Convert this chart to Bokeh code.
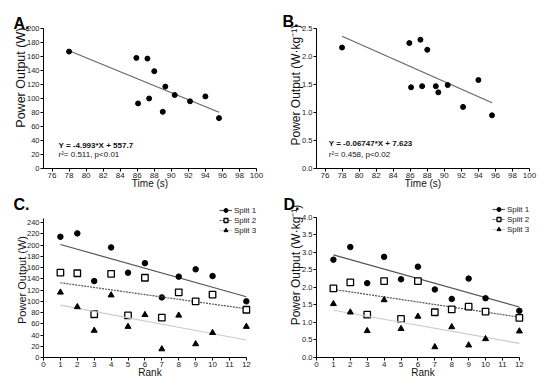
import numpy as np
from bokeh.plotting import figure
from bokeh.layouts import gridplot
from bokeh.models import Label, Legend, LegendItem, FixedTicker, NumeralTickFormatter, Range1d
from bokeh.embed import file_html
from bokeh.resources import INLINE

# ---------------- data ----------------
time_s = [78.0, 85.9, 86.1, 87.2, 87.4, 88.0, 89.0, 89.3, 90.4, 92.2, 94.0, 95.6]
power_w = [167, 158, 93, 157, 100, 139, 81, 117, 105, 96, 103, 72]
power_wkg = [2.16, 2.24, 1.45, 2.30, 1.47, 2.12, 1.47, 1.36, 1.49, 1.10, 1.58, 0.95]
fit_a = [-4.993, 557.7]
fit_b = [-0.06747, 7.623]
eq_a = "Y = -4.993*X + 557.7"
stats_a = "r²= 0.511, p<0.01"
eq_b = "Y = -0.06747*X + 7.623"
stats_b = "r²= 0.458, p<0.02"

rank = [1, 2, 3, 4, 5, 6, 7, 8, 9, 10, 12]
c_split1 = [215, 221, 136, 196, 151, 168, 107, 144, 157, 145, 100]
c_split2 = [151, 150, 77, 149, 75, 142, 71, 116, 100, 112, 85]
c_split3 = [116, 90, 48, 111, 55, 76, 15, 75, 24, 44, 55]
d_split1 = [2.79, 3.15, 2.12, 2.87, 2.23, 2.59, 1.94, 1.67, 2.25, 1.69, 1.33]
d_split2 = [1.97, 2.14, 1.22, 2.18, 1.10, 2.18, 1.29, 1.37, 1.45, 1.31, 1.13]
d_split3 = [1.53, 1.29, 0.76, 1.64, 0.82, 1.17, 0.30, 0.87, 0.35, 0.53, 0.75]
split_names = ["Split 1", "Split 2", "Split 3"]

time_ticks = [76, 78, 80, 82, 84, 86, 88, 90, 92, 94, 96, 98, 100]
w_ticks_a = list(range(0, 201, 20))
wkg_ticks_b = [0.0, 0.5, 1.0, 1.5, 2.0, 2.5]
rank_ticks = list(range(0, 13))
w_ticks_c = list(range(0, 241, 20))
wkg_ticks_d = [0.0, 0.5, 1.0, 1.5, 2.0, 2.5, 3.0, 3.5, 4.0]

FONT = "Liberation Sans"
NB = "\u00a0"


def make_fig(w, h, xr, yr, bl, br, bt, bb):
    p = figure(width=w, height=h, x_range=Range1d(*xr), y_range=Range1d(*yr),
               output_backend="svg", toolbar_location=None,
               min_border_left=bl, min_border_right=br,
               min_border_top=bt, min_border_bottom=bb)
    p.outline_line_color = None
    p.xgrid.visible = False
    p.ygrid.visible = False
    p.background_fill_color = "white"
    p.border_fill_color = "white"
    for ax in (p.xaxis[0], p.yaxis[0]):
        ax.axis_line_color = "black"
        ax.axis_line_width = 1
        ax.major_tick_out = 3
        ax.major_tick_in = 0
        ax.minor_tick_out = 0
        ax.minor_tick_in = 0
        ax.major_tick_line_color = "black"
        ax.major_label_text_font = FONT
        ax.major_label_text_color = "#222222"
        ax.axis_label_text_font = FONT
        ax.axis_label_text_font_style = "normal"
        ax.axis_label_text_color = "#111111"
    p.xaxis[0].major_label_text_font_size = "8px"
    p.yaxis[0].major_label_text_font_size = "7.5px"
    p.xaxis[0].major_label_standoff = 1
    p.yaxis[0].major_label_standoff = 1
    p.xaxis[0].axis_label_standoff = -3
    p.yaxis[0].axis_label_standoff = -4
    return p


def set_letter(p, letter, offset, standoff):
    p.title.text = letter
    p.title.align = "left"
    p.title.offset = offset
    p.title.standoff = standoff
    p.title.text_font = FONT
    p.title.text_font_size = "16px"
    p.title.text_font_style = "bold"
    p.title.text_color = "black"


def add_text(p, txt, x, y, bold=False):
    p.add_layout(Label(x=x, y=y, x_units="screen", y_units="screen", text=txt,
                       text_font=FONT, text_font_size="8px",
                       text_font_style="bold" if bold else "normal",
                       text_color="#111111", text_baseline="alphabetic"))


def style_legend(p, items, loc):
    leg = Legend(items=items, location=loc)
    leg.border_line_color = None
    leg.background_fill_alpha = 0
    leg.padding = 0
    leg.margin = 0
    leg.spacing = 0
    leg.glyph_width = 13
    leg.glyph_height = 10
    leg.label_height = 9
    leg.label_standoff = 2
    leg.label_text_font = FONT
    leg.label_text_font_size = "8px"
    leg.label_text_color = "#222222"
    p.add_layout(leg)


# ---------------- Panel A ----------------
pA = make_fig(275, 194, (75, 100), (0, 200), 43, 19, 28, 26)
pA.xaxis[0].ticker = FixedTicker(ticks=time_ticks)
pA.yaxis[0].ticker = FixedTicker(ticks=w_ticks_a)
xs = np.array([min(time_s), max(time_s)])
pA.line(xs, fit_a[0] * xs + fit_a[1], line_color="#666666", line_width=1.2)
pA.scatter(time_s, power_w, marker="circle", size=5, color="black")
set_letter(pA, "A.", -30, -6)
add_text(pA, eq_a, 15, 23.4, bold=True)
add_text(pA, stats_a, 15, 14.4)
pA.yaxis[0].axis_label = NB * 12 + "Power Output (W)"
pA.yaxis[0].axis_label_text_font_size = "12.5px"
pA.xaxis[0].axis_label = "Time (s)"
pA.xaxis[0].axis_label_text_font_size = "10px"

# ---------------- Panel B ----------------
pB = make_fig(275, 194, (75, 100), (0, 2.5), 41, 21, 27, 26)
pB.xaxis[0].ticker = FixedTicker(ticks=time_ticks)
pB.yaxis[0].ticker = FixedTicker(ticks=wkg_ticks_b)
pB.yaxis[0].formatter = NumeralTickFormatter(format="0.0")
pB.line(xs, fit_b[0] * xs + fit_b[1], line_color="#666666", line_width=1.2)
pB.scatter(time_s, power_wkg, marker="circle", size=5, color="black")
set_letter(pB, "B.", -34, -3)
add_text(pB, eq_b, 12.3, 25.1, bold=True)
add_text(pB, stats_b, 12.3, 14.4)
pB.yaxis[0].axis_label = NB * 8 + "Power Output (W·kg⁻¹)"
pB.yaxis[0].axis_label_text_font_size = "12px"
pB.xaxis[0].axis_label = "Time (s)"
pB.xaxis[0].axis_label_text_font_size = "10px"


# ---------------- Panels C & D ----------------
def split_panel(p, ys, letter, ylabel, ylab_size, legend_loc, letter_offset, letter_standoff):
    rk = np.array(rank, dtype=float)
    xfit = np.array([min(rank), max(rank)], dtype=float)
    styles = [
        dict(line_color="#555555", line_width=1.2, line_dash="solid"),
        dict(line_color="#555555", line_width=1.2, line_dash="2 1"),
        dict(line_color="#cccccc", line_width=1.2, line_dash="solid"),
    ]
    items = []
    for i, (yv, st) in enumerate(zip(ys, styles)):
        m, b = np.polyfit(rk, np.array(yv, dtype=float), 1)
        lr = p.line(xfit, m * xfit + b, **st)
        if i == 0:
            sr = p.scatter(rank, yv, marker="circle", size=5.5, color="black")
        elif i == 1:
            sr = p.scatter(rank, yv, marker="square", size=6.5, fill_color="white",
                           line_color="black", line_width=1.3)
        else:
            sr = p.scatter(rank, yv, marker="triangle", size=6, color="black")
        items.append(LegendItem(label=split_names[i], renderers=[lr, sr]))
    style_legend(p, items, legend_loc)
    p.xaxis[0].ticker = FixedTicker(ticks=rank_ticks)
    p.xaxis[0].bounds = (0, 12)
    set_letter(p, letter, letter_offset, letter_standoff)
    p.yaxis[0].axis_label = ylabel
    p.yaxis[0].axis_label_text_font_size = ylab_size
    p.xaxis[0].axis_label = "Rank"
    p.xaxis[0].axis_label_text_font_size = "10px"


pC = make_fig(275, 190, (0, 12.6), (0, 276), 42, 10, 8, 27)
pC.yaxis[0].ticker = FixedTicker(ticks=w_ticks_c)
pC.yaxis[0].bounds = (0, 247)
split_panel(pC, [c_split1, c_split2, c_split3], "C.", "Power Output (W)", "11px",
            (176, 122), -30, -21)

pD = make_fig(275, 190, (0, 12.6), (0, 4.42), 40, 12, 8, 26)
pD.yaxis[0].ticker = FixedTicker(ticks=wkg_ticks_d)
pD.yaxis[0].formatter = NumeralTickFormatter(format="0.0")
pD.yaxis[0].bounds = (0, 4.0)
split_panel(pD, [d_split1, d_split2, d_split3], "D.", NB * 9 + "Power Output (W·kg⁻¹)", "12px",
            (176, 123), -33, -20)

grid = gridplot([[pA, pB], [pC, pD]], toolbar_location=None)

open("out.html", "w").write(file_html(grid, INLINE))
